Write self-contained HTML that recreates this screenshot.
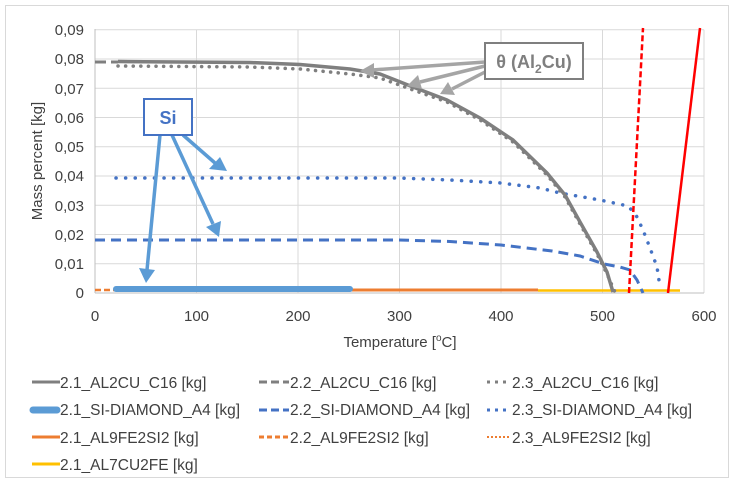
<!DOCTYPE html>
<html><head><meta charset="utf-8"><style>
body{margin:0;background:#fff}
svg{display:block;font-family:"Liberation Sans",sans-serif}
</style></head><body>
<svg width="734" height="482" viewBox="0 0 734 482">
<rect x="5.5" y="5.5" width="723" height="472" fill="#fff" stroke="#d9d9d9"/>
<g stroke="#d9d9d9" stroke-width="1">
<line x1="95" y1="29.75" x2="704" y2="29.75"/><line x1="95" y1="59" x2="704" y2="59"/><line x1="95" y1="88.25" x2="704" y2="88.25"/><line x1="95" y1="117.5" x2="704" y2="117.5"/><line x1="95" y1="146.75" x2="704" y2="146.75"/><line x1="95" y1="176" x2="704" y2="176"/><line x1="95" y1="205.25" x2="704" y2="205.25"/><line x1="95" y1="234.5" x2="704" y2="234.5"/><line x1="95" y1="263.75" x2="704" y2="263.75"/>
<line x1="196.5" y1="29.75" x2="196.5" y2="293"/><line x1="298" y1="29.75" x2="298" y2="293"/><line x1="399.5" y1="29.75" x2="399.5" y2="293"/><line x1="501" y1="29.75" x2="501" y2="293"/><line x1="602.5" y1="29.75" x2="602.5" y2="293"/><line x1="704" y1="29.75" x2="704" y2="293"/>
</g>
<g stroke="#bfbfbf" stroke-width="1">
<line x1="95" y1="29" x2="95" y2="293"/><line x1="95" y1="293" x2="704" y2="293"/>
</g>
<g fill="#404040" font-size="15" text-anchor="end">
<text x="84" y="35">0,09</text><text x="84" y="64">0,08</text><text x="84" y="94">0,07</text><text x="84" y="123">0,06</text><text x="84" y="152">0,05</text><text x="84" y="181">0,04</text><text x="84" y="211">0,03</text><text x="84" y="240">0,02</text><text x="84" y="269">0,01</text><text x="84" y="298">0</text>
</g>
<g fill="#404040" font-size="15" text-anchor="middle">
<text x="95" y="321">0</text><text x="196.5" y="321">100</text><text x="298" y="321">200</text><text x="399.5" y="321">300</text><text x="501" y="321">400</text><text x="602.5" y="321">500</text><text x="704" y="321">600</text>
<text x="400" y="347">Temperature [<tspan font-size="10" dy="-6">o</tspan><tspan dy="6">C]</tspan></text>
</g>
<text transform="translate(42,161) rotate(-90)" fill="#404040" font-size="15" text-anchor="middle">Mass percent [kg]</text>

<!-- series -->
<polyline fill="none" stroke="#ed7d31" stroke-width="2.5" stroke-dasharray="6,3" points="95,290 538,290"/>
<polyline fill="none" stroke="#ed7d31" stroke-width="3" points="115,290 538,290"/>
<polyline fill="none" stroke="#ffc000" stroke-width="2.5" points="538,290.5 680,290.5"/>
<polyline fill="none" stroke="#5b9bd5" stroke-width="6" stroke-linecap="round" points="116,289 350,289"/>
<polyline fill="none" stroke="#4472c4" stroke-width="3" stroke-dasharray="10,6" points="95,240 399,240 450,241.5 501,245 552,251 580,256 604,264 620,267 630,270 637,280 643,293"/>
<polyline fill="none" stroke="#4472c4" stroke-width="3.5" stroke-dasharray="0.1,9.5" stroke-linecap="round" points="116,178 399,178 450,180 501,183 540,188 560,193 600,200 628,206 636,215 643,230 650,248 657,267 660,287"/>
<polyline fill="none" stroke="#7f7f7f" stroke-width="3" stroke-dasharray="11,5" points="95,62 118,62"/>
<polyline fill="none" stroke="#7f7f7f" stroke-width="3.5" stroke-dasharray="0.1,7.5" stroke-linecap="round" points="118,66 250,67 300,69 350,74 380,78 413,90 447,102 480,120 513,142 547,175 565,197 580,224 597,254 607,274 615,292"/>
<polyline fill="none" stroke="#7f7f7f" stroke-width="3.5" stroke-linejoin="round" points="118,61.5 250,62.5 300,64.5 350,69 380,74 413,87 447,100 480,118 513,140 547,173 565,195 580,222 597,252 607,272 613,292"/>
<polyline fill="none" stroke="#ff0000" stroke-width="2.5" stroke-dasharray="6,3" points="629,293 643,28"/>
<polyline fill="none" stroke="#ff0000" stroke-width="2.5" points="668,293 700,28"/>

<!-- Si callout -->
<g stroke="#5b9bd5" stroke-width="3.5" fill="#5b9bd5">
<line x1="160" y1="135" x2="147" y2="270"/><polygon points="139,268 155,270 146,283" stroke="none"/>
<line x1="172" y1="135" x2="213" y2="224"/><polygon points="206,227 221,221 219,237" stroke="none"/>
<line x1="183" y1="135" x2="215" y2="163"/><polygon points="209,169 220,157 227,171" stroke="none"/>
</g>
<rect x="144" y="99" width="48" height="36" fill="#fff" stroke="#4472c4" stroke-width="2"/>
<text x="168" y="124" fill="#4472c4" font-size="18" font-weight="bold" text-anchor="middle">Si</text>

<!-- theta callout -->
<g stroke="#a5a5a5" stroke-width="3.5" fill="#a5a5a5">
<line x1="485" y1="62" x2="372" y2="70"/><polygon points="374,63 374,78 360,71" stroke="none"/>
<line x1="485" y1="66" x2="420" y2="82"/><polygon points="418,75 422,89 407,86" stroke="none"/>
<line x1="485" y1="72" x2="452" y2="89"/><polygon points="448,82 455,95 440,94" stroke="none"/>
</g>
<rect x="485" y="43" width="98" height="36" fill="#fff" stroke="#7f7f7f" stroke-width="2"/>
<text x="534" y="68" fill="#7f7f7f" font-size="18" font-weight="bold" text-anchor="middle">θ (Al<tspan font-size="12" dy="5">2</tspan><tspan dy="-5">Cu)</tspan></text>

<!-- legend -->
<g stroke-width="3">
<line x1="32" y1="382" x2="60" y2="382" stroke="#7f7f7f"/>
<line x1="259" y1="382" x2="289" y2="382" stroke="#7f7f7f" stroke-dasharray="8,4"/>
<line x1="487" y1="382" x2="509" y2="382" stroke="#7f7f7f" stroke-dasharray="3,5"/>
<line x1="33" y1="410" x2="57" y2="410" stroke="#5b9bd5" stroke-width="7" stroke-linecap="round"/>
<line x1="259" y1="410" x2="289" y2="410" stroke="#4472c4" stroke-dasharray="8,4"/>
<line x1="487" y1="410" x2="509" y2="410" stroke="#4472c4" stroke-dasharray="3,5"/>
<line x1="32" y1="437" x2="60" y2="437" stroke="#ed7d31"/>
<line x1="259" y1="437" x2="289" y2="437" stroke="#ed7d31" stroke-dasharray="5,3"/>
<line x1="487" y1="437" x2="509" y2="437" stroke="#ed7d31" stroke-width="2" stroke-dasharray="2,2"/>
<line x1="32" y1="464" x2="60" y2="464" stroke="#ffc000"/>
</g>
<g fill="#404040" font-size="15.5">
<text x="60" y="388">2.1_AL2CU_C16 [kg]</text><text x="290" y="388">2.2_AL2CU_C16 [kg]</text><text x="512" y="388">2.3_AL2CU_C16 [kg]</text>
<text x="60" y="415">2.1_SI-DIAMOND_A4 [kg]</text><text x="290" y="415">2.2_SI-DIAMOND_A4 [kg]</text><text x="512" y="415">2.3_SI-DIAMOND_A4 [kg]</text>
<text x="60" y="443">2.1_AL9FE2SI2 [kg]</text><text x="290" y="443">2.2_AL9FE2SI2 [kg]</text><text x="512" y="443">2.3_AL9FE2SI2 [kg]</text>
<text x="60" y="470">2.1_AL7CU2FE [kg]</text>
</g>
</svg>
</body></html>
